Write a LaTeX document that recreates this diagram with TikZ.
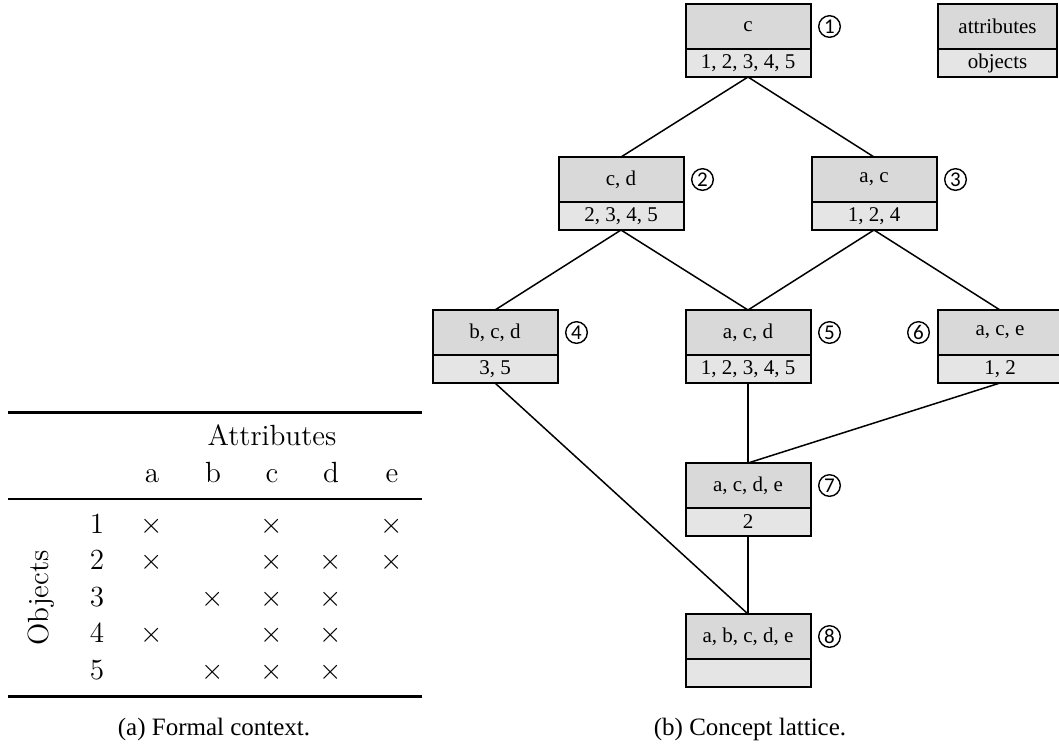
\documentclass[tikz,border=0pt]{standalone}
\usepackage{fontspec}
\newfontfamily\boxfont{Liberation Serif}
\newfontfamily\capfont{Liberation Serif}
\newfontfamily\numfont{Carlito}

% One formal concept: attribute part on top, object part below, number beside it
\newcommand\concept[7]{% name, x, top y, attributes, objects, number, side (e/w)
  \node[attrpart] (#1) at (#2,#3) {#4};
  \node[objpart] (#1o) at (#1.south) {#5};
  \ifx#7w
    \node[circnum] (#1n) at ([xshift=-9.5pt]#1.west) {#6};
  \else
    \node[circnum] (#1n) at ([xshift=9.5pt]#1.east) {#6};
  \fi
}

\begin{document}
\begin{tikzpicture}[x=0.5pt,y=-0.5pt,
  boxtext/.style={font=\boxfont\fontsize{10.5}{12}\selectfont},
  attrpart/.style={boxtext, draw, line width=1pt, fill=black!15, outer sep=0pt,
    minimum width=62.5pt, minimum height=22.5pt, inner sep=0pt, anchor=north},
  objpart/.style={boxtext, draw, line width=1pt, fill=black!10, outer sep=0pt,
    minimum width=62.5pt, minimum height=14pt, inner sep=0pt, anchor=north},
  link/.style={line width=0.75pt},
  circnum/.style={circle, draw, line width=0.7pt, minimum size=10.8pt,
    inner sep=0pt, font=\numfont\fontsize{10.5}{10.5}\selectfont},
  tabtext/.style={font=\fontsize{14.6}{17}\selectfont, anchor=base, inner sep=0pt},
  captext/.style={font=\capfont\fontsize{12.5}{15}\selectfont, anchor=base, inner sep=0pt},
]
\useasboundingbox (0,0) rectangle (1059,746);

% ---------------- formal context ----------------
\draw[line width=1.5pt] (8,412) -- (422,412);
\draw[line width=1pt]   (8,499) -- (422,499);
\draw[line width=1.5pt] (8,696) -- (422,696);

\node[tabtext] (attrs) at (272,445) {Attributes};
\foreach \c/\x in {a/152,b/213,c/272,d/331,e/392}
  \node[tabtext] (col-\c) at (\x,482) {\c};
\foreach \r/\y in {1/533,2/569.5,3/606,4/642.5,5/679}
  \node[tabtext] (row-\r) at (97,\y) {\r};
\node[tabtext, rotate=90] (objs) at (48,598) {Objects};
\foreach \r/\c in {1/a,1/c,1/e,2/a,2/c,2/d,2/e,3/b,3/c,3/d,4/a,4/c,4/d,5/b,5/c,5/d}
  \node[tabtext] (x-\r\c) at (col-\c |- row-\r.base) {$\times$};

\node[captext] (cap-a) at (214,735) {(a) Formal context.};

% ---------------- concept lattice ----------------
\concept{n1}{748}{4}{c}{1, 2, 3, 4, 5}{1}{e}
\concept{n2}{621}{157}{c, d}{2, 3, 4, 5}{2}{e}
\concept{n3}{874}{157}{a, c}{1, 2, 4}{3}{e}
\concept{n4}{495}{310}{b, c, d}{3, 5}{4}{e}
\concept{n5}{748}{310}{a, c, d}{1, 2, 3, 4, 5}{5}{e}
\concept{n6}{1000}{310}{a, c, e}{1, 2}{6}{w}
\concept{n7}{748}{463}{a, c, d, e}{2}{7}{e}
\concept{n8}{748}{614}{a, b, c, d, e}{}{8}{e}

% legend
\node[attrpart, minimum width=59.5pt] (key) at (997.5,4) {attributes};
\node[objpart, minimum width=59.5pt] (keyo) at (key.south) {objects};

\draw[link] (n1o.south) -- (n2.north);
\draw[link] (n1o.south) -- (n3.north);
\draw[link] (n2o.south) -- (n4.north);
\draw[link] (n2o.south) -- (n5.north);
\draw[link] (n3o.south) -- (n5.north);
\draw[link] (n3o.south) -- (n6.north);
\draw[link] (n4o.south) -- (n8.north);
\draw[link] (n5o.south) -- (n7.north);
\draw[link] (n6o.south) -- (n7.north);
\draw[link] (n7o.south) -- (n8.north);

\node[captext] (cap-b) at (750,735) {(b) Concept lattice.};
\end{tikzpicture}
\end{document}
